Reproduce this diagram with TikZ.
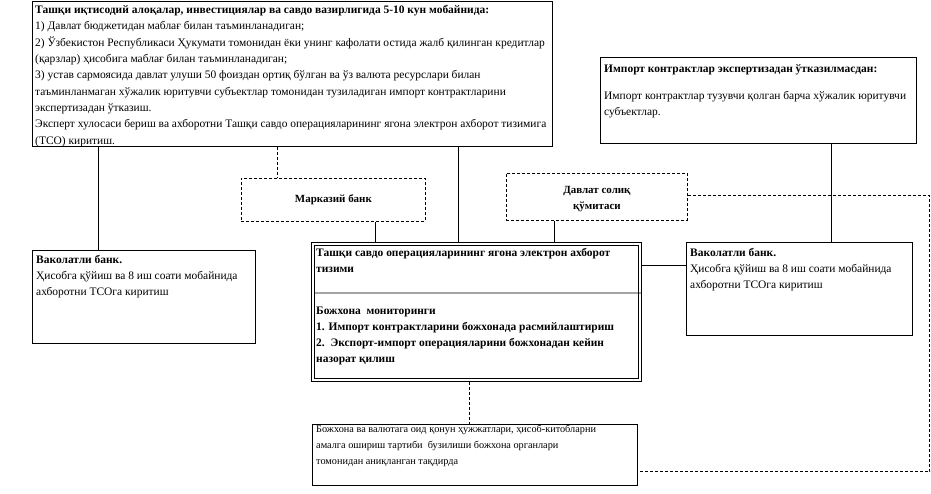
\documentclass[tikz,border=0pt]{standalone}
\usepackage{fontspec}
\setmainfont{Liberation Serif}
\begin{document}
\begin{tikzpicture}[x=1bp,y=-1bp,
  box/.style={draw, line width=0.8bp, inner sep=0pt, anchor=north west},
  dbox/.style={box, dash pattern=on 3bp off 2bp},
  txt/.style={anchor=north west, inner sep=0pt, align=left, font=\fontsize{11.5}{16.4}\selectfont},
  ctxt/.style={anchor=center, inner sep=0pt, align=center, font=\fontsize{11}{15.5}\selectfont\bfseries},
  conn/.style={line width=0.8bp},
  dconn/.style={line width=0.8bp, dash pattern=on 3bp off 2bp}]
\useasboundingbox (0,0) rectangle (931,494);

% boxes
\node[box, minimum width=520bp, minimum height=145bp] (top) at (32,1) {};
\node[txt] (toptxt) at (35,5) {\textbf{Ташқи иқтисодий алоқалар, инвестициялар ва савдо вазирлигида 5-10 кун мобайнида:}\\
1) Давлат бюджетидан маблағ билан таъминланадиган;\\
2) Ўзбекистон Республикаси Ҳукумати томонидан ёки унинг кафолати остида жалб қилинган кредитлар\\
(қарзлар) ҳисобига маблағ билан таъминланадиган;\\
3) устав сармоясида давлат улуши 50 фоиздан ортиқ бўлган ва ўз валюта ресурслари билан\\
таъминланмаган хўжалик юритувчи субъектлар томонидан тузиладиган импорт контрактларини\\
экспертизадан ўтказиш.\\
Эксперт хулосаси бериш ва ахборотни Ташқи савдо операцияларининг ягона электрон ахборот тизимига\\
(ТСО) киритиш.};

\node[box, minimum width=316bp, minimum height=86bp] (imp) at (600,57) {};
\node[txt] (imptxt) at (604,64) {\textbf{Импорт контрактлар экспертизадан ўтказилмасдан:}\\[11bp]
Импорт контрактлар тузувчи қолган барча хўжалик юритувчи\\
субъектлар.};

\node[dbox, minimum width=184bp, minimum height=43bp] (mb) at (241,178) {};
\node[ctxt] (mbtxt) at (mb.center) {Марказий банк};

\node[dbox, minimum width=181bp, minimum height=47bp] (ds) at (506,173) {};
\node[ctxt] (dstxt) at ([yshift=-2bp]ds.center) {Давлат солиқ\\қўмитаси};

\node[box, minimum width=223bp, minimum height=93bp] (lvak) at (32,250) {};
\node[txt, font=\fontsize{11.5}{16.2}\selectfont] (lvaktxt) at (36,255) {\textbf{Ваколатли банк.}\\
Ҳисобга қўйиш ва 8 иш соати мобайнида\\
ахборотни ТСОга киритиш};

\node[box, minimum width=226bp, minimum height=93bp] (rvak) at (686,242) {};
\node[txt, font=\fontsize{11.5}{16.2}\selectfont] (rvaktxt) at (690,248) {\textbf{Ваколатли банк.}\\
Ҳисобга қўйиш ва 8 иш соати мобайнида\\
ахборотни ТСОга киритиш};

\node[box, draw=none, minimum width=330bp, minimum height=139bp] (tso) at (311,242) {};
\draw[line width=0.8bp] (tso.north west) rectangle (tso.south east);
\draw[line width=0.8bp] ([shift={(3,3)}]tso.north west) rectangle ([shift={(-3,-3)}]tso.south east);
\draw[line width=0.8bp] ([shift={(3,51)}]tso.north west) -- ([yshift=-51bp]tso.north east);
\node[txt, font=\fontsize{11.5}{16}\selectfont\bfseries] (tsotxt) at (316,248) {Ташқи савдо операцияларининг ягона электрон ахборот\\
тизими\\[26bp]
Божхона\ \ мониторинги\\
1. Импорт контрактларини божхонада расмийлаштириш\\
2.\ \ Экспорт-импорт операцияларини божхонадан кейин\\
назорат қилиш};

\node[box, minimum width=325bp, minimum height=61bp] (bj) at (312,424) {};
\node[txt, font=\fontsize{10.3}{16}\selectfont] (bjtxt) at (316,425) {Божхона ва валютага оид қонун ҳужжатлари, ҳисоб-китобларни\\
амалга ошириш тартиби\ \ бузилиши божхона органлари\\
томонидан аниқланган тақдирда};

% connectors
\draw[conn] ([xshift=66bp]top.south west) -- ([xshift=66bp]top.south west |- lvak.north);
\draw[dconn] ([xshift=245bp]top.south west) -- ([xshift=245bp]top.south west |- mb.north);
\draw[conn] ([xshift=426bp]top.south west) -- ([xshift=426bp]top.south west |- tso.north);
\draw[conn] ([xshift=134bp]mb.south west) -- ([xshift=134bp]mb.south west |- tso.north);
\draw[conn] ([xshift=48bp]ds.south west) -- ([xshift=48bp]ds.south west |- tso.north);
\draw[conn] ([xshift=231bp]imp.south west) -- ([xshift=231bp]imp.south west |- rvak.north);
\draw[conn] ([yshift=-23bp]tso.north east) -- ([yshift=-23bp]tso.north east -| rvak.west);
\draw[dconn] ([xshift=158bp]tso.south west) -- ([xshift=158bp]tso.south west |- bj.north);
\coordinate (c1) at ([xshift=242bp]ds.east);
\coordinate (bjr) at ([yshift=14bp]bj.south east);
\draw[dconn] ([yshift=1bp]ds.east) -- ([yshift=1bp]c1) -- (c1 |- bjr) -- (bjr);
\end{tikzpicture}
\end{document}
